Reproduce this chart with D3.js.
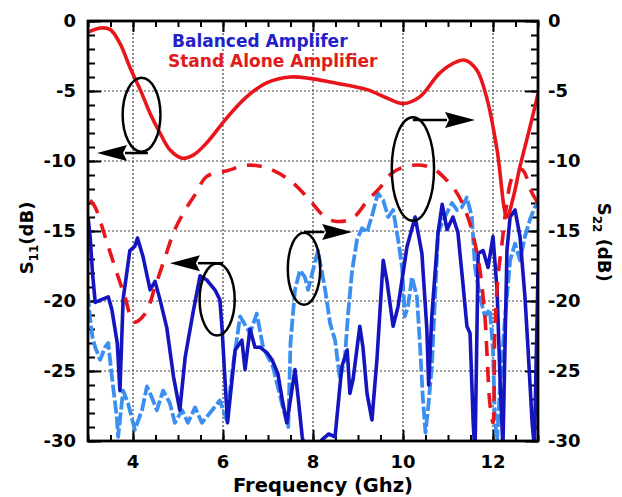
<!DOCTYPE html>
<html>
<head>
<meta charset="utf-8">
<style>
  body { margin: 0; background: #ffffff; }
  text { font-family: "DejaVu Sans", sans-serif; font-weight: bold; }
</style>
</head>
<body>
<div id="graph_div"></div>
<script src="https://d3js.org/d3.v7.min.js"></script>
<script>
// [frequency GHz, level dB]
var standAloneS11 = [[3.0,-0.8],[3.27,-0.5],[3.49,-0.6],[3.71,-1.6],[3.93,-3.3],[4.16,-4.9],[4.38,-6.6],[4.6,-8.0],
  [4.82,-9.2],[5.09,-9.8],[5.33,-9.6],[5.64,-8.7],[6.09,-6.9],[6.53,-5.4],[6.98,-4.4],[7.49,-4.0],[7.93,-4.1],
  [8.44,-4.4],[9.2,-4.9],[9.64,-5.5],[10.0,-5.9],[10.38,-5.4],[10.82,-3.7],[11.2,-2.9],[11.38,-2.8],[11.64,-3.5],
  [11.87,-5.6],[12.09,-9.2],[12.31,-14.0],[12.45,-12.6],[12.6,-10.4],[12.82,-7.6],[13.0,-5.2]];

var standAloneS22 = [[3.05,-12.8],[3.16,-13.3],[3.38,-15.4],[3.6,-17.6],[3.82,-19.7],[4.02,-21.5],[4.27,-20.9],[4.49,-19.0],
  [4.71,-16.9],[4.93,-14.9],[5.16,-13.5],[5.38,-12.4],[5.64,-11.1],[6.09,-10.7],[6.53,-10.3],[6.98,-10.5],[7.49,-11.4],
  [7.93,-12.8],[8.2,-13.8],[8.49,-14.3],[8.87,-14.1],[9.22,-12.8],[9.49,-11.9],[9.78,-10.8],[10.22,-10.3],[10.64,-10.5],
  [10.98,-11.4],[11.22,-12.4],[11.44,-14.0],[11.6,-15.9],[11.71,-17.8],[11.82,-21.1],[11.87,-24.0],[11.93,-27.3],
  [12.0,-28.7],[12.04,-22.3],[12.11,-18.3],[12.2,-15.9],[12.3,-13.2],[12.44,-11.1],[12.64,-10.6],[12.87,-12.3],[13.0,-13.0]];

var balancedS11 = [[3.0,-14.0],[3.05,-15.5],[3.1,-18.0],[3.16,-20.1],[3.3,-19.9],[3.45,-19.7],[3.53,-20.6],[3.65,-23.0],
  [3.71,-26.4],[3.78,-19.9],[3.93,-16.4],[4.04,-16.1],[4.1,-15.5],[4.22,-16.8],[4.38,-19.2],[4.49,-18.6],[4.6,-19.9],
  [4.75,-21.9],[4.9,-25.4],[5.04,-27.8],[5.16,-24.0],[5.33,-20.9],[5.49,-18.2],[5.64,-18.5],[5.82,-19.2],[5.93,-19.9],
  [5.98,-22.0],[6.04,-25.4],[6.1,-28.7],[6.27,-23.5],[6.42,-22.8],[6.49,-24.9],[6.6,-22.0],[6.71,-23.3],[6.82,-23.3],
  [6.98,-23.7],[7.09,-24.2],[7.22,-25.2],[7.33,-27.3],[7.42,-28.7],[7.53,-26.4],[7.6,-24.9],[7.67,-26.9],[7.76,-29.7],
  [7.85,-31],[8.1,-31],[8.2,-29.9],[8.35,-29.5],[8.49,-29.7],[8.64,-24.7],[8.76,-23.5],[8.82,-26.6],[8.89,-25.6],
  [9.04,-21.8],[9.11,-23.3],[9.2,-26.6],[9.31,-28.5],[9.42,-24.2],[9.56,-17.1],[9.64,-18.5],[9.78,-21.8],[9.89,-20.4],
  [10.09,-16.1],[10.27,-14.0],[10.42,-16.6],[10.53,-22.0],[10.57,-26.0],[10.64,-21.1],[10.78,-15.1],[10.87,-13.1],
  [10.98,-14.9],[11.11,-14.0],[11.22,-15.1],[11.33,-18.7],[11.42,-21.8],[11.49,-22.3],[11.56,-28.7],[11.6,-31],
  [11.67,-16.6],[11.78,-16.4],[11.89,-17.6],[12.0,-15.4],[12.09,-19.2],[12.16,-25.9],[12.22,-30.5],[12.31,-16.4],
  [12.38,-14.0],[12.49,-13.5],[12.6,-15.4],[12.71,-19.7],[12.78,-23.5],[12.87,-28.7],[12.92,-30.5],[13.0,-18.0]];

var balancedS22 = [[3.0,-19.5],[3.04,-21.1],[3.1,-22.6],[3.16,-23.3],[3.27,-24.2],[3.38,-23.3],[3.45,-23.0],[3.53,-25.4],
  [3.64,-28.3],[3.67,-29.7],[3.78,-26.4],[3.89,-27.3],[4.04,-29.2],[4.2,-27.8],[4.31,-26.1],[4.42,-26.9],[4.53,-27.8],
  [4.67,-26.4],[4.82,-27.3],[4.93,-28.7],[5.09,-27.8],[5.22,-28.7],[5.38,-27.6],[5.53,-28.7],[5.71,-28.0],[5.93,-27.1],
  [6.08,-28.5],[6.22,-24.7],[6.38,-21.1],[6.6,-22.3],[6.75,-20.9],[6.89,-23.3],[7.11,-24.7],[7.33,-27.6],[7.45,-29.0],
  [7.5,-23.0],[7.55,-21.1],[7.6,-19.2],[7.71,-17.8],[7.82,-18.3],[7.89,-19.2],[8.0,-17.8],[8.11,-16.4],[8.27,-19.2],
  [8.38,-21.6],[8.49,-22.8],[8.6,-25.6],[8.71,-24.0],[8.78,-20.9],[8.87,-17.8],[8.98,-15.6],[9.09,-14.8],[9.2,-15.1],
  [9.33,-13.7],[9.44,-12.3],[9.56,-12.8],[9.67,-14.0],[9.78,-13.5],[9.89,-15.6],[9.98,-17.6],[10.04,-21.1],[10.11,-20.4],
  [10.2,-18.3],[10.31,-19.7],[10.38,-23.3],[10.44,-26.9],[10.5,-29.4],[10.56,-27.6],[10.64,-24.7],[10.78,-15.1],
  [10.93,-14.0],[11.09,-13.0],[11.2,-13.5],[11.31,-13.3],[11.42,-12.6],[11.53,-14.0],[11.6,-17.6],[11.71,-19.7],
  [11.82,-21.1],[11.93,-20.6],[12.0,-23.5],[12.04,-28.3],[12.09,-30.0],[12.16,-25.9],[12.27,-21.1],[12.38,-17.1],
  [12.49,-15.9],[12.6,-17.1],[12.71,-15.4],[12.82,-14.2],[12.93,-13.3],[13.0,-13.0]];

var xTicks = [4, 6, 8, 10, 12];
var yTicks = [0, -5, -10, -15, -20, -25, -30];
var legendLabels = ["Balanced Amplifer", "Stand Alone Amplifier"];

// ellipse call-outs (GHz / dB): centre, half sizes, arrow level, arrow start and tip
var callouts = [
  {f: 4.19, db: -6.7, rf: 0.42, rdb: 2.64, arrowDb: -9.43, from: 4.33, to: 3.2},
  {f: 5.87, db: -19.9, rf: 0.39, rdb: 2.57, arrowDb: -17.3, from: 6.0, to: 4.82},
  {f: 7.8, db: -17.7, rf: 0.36, rdb: 2.57, arrowDb: -15.07, from: 7.8, to: 8.87},
  {f: 10.22, db: -10.57, rf: 0.47, rdb: 3.7, arrowDb: -7.07, from: 10.22, to: 11.6}
];

var margin = {top: 21, right: 84, bottom: 56, left: 88},
    width = 622 - margin.left - margin.right,
    height = 497 - margin.top - margin.bottom;

var svg = d3.select("#graph_div")
  .append("svg")
    .attr("width", 622)
    .attr("height", 497)
  .append("g")
    .attr("transform", "translate(" + margin.left + "," + margin.top + ")");

var x = d3.scaleLinear().domain([3, 13]).range([0, width]);
var y = d3.scaleLinear().domain([-30, 0]).range([height, 0]);

svg.append("defs").append("clipPath").attr("id", "clip")
  .append("rect").attr("width", width).attr("height", height);

// dotted grid
svg.append("g").selectAll("line")
  .data(xTicks).enter().append("line")
    .attr("x1", function(d){ return x(d) }).attr("x2", function(d){ return x(d) })
    .attr("y1", 0).attr("y2", height)
    .attr("stroke", "#444").attr("stroke-width", 1.2).attr("stroke-dasharray", "2,2");
svg.append("g").selectAll("line")
  .data(yTicks.filter(function(d){ return d < 0 && d > -30 })).enter().append("line")
    .attr("y1", function(d){ return y(d) }).attr("y2", function(d){ return y(d) })
    .attr("x1", 0).attr("x2", width)
    .attr("stroke", "#444").attr("stroke-width", 1.2).attr("stroke-dasharray", "2,2");

// inside ticks on all four sides
var xMinor = d3.range(3, 13.01, 0.5), yMinor = d3.range(-30, 0.01, 1);
function tickGroup(axis, tx, ty) {
  var g = svg.append("g").attr("transform", "translate(" + tx + "," + ty + ")").call(axis);
  g.select(".domain").remove();
  g.selectAll("line").attr("stroke", "#000").attr("stroke-width", 2);
  g.selectAll("text").remove();
}
tickGroup(d3.axisBottom(x).tickValues(xMinor).tickSize(-6), 0, height);
tickGroup(d3.axisBottom(x).tickValues(xTicks).tickSize(-11), 0, height);
tickGroup(d3.axisTop(x).tickValues(xMinor).tickSize(-6), 0, 0);
tickGroup(d3.axisTop(x).tickValues(xTicks).tickSize(-11), 0, 0);
tickGroup(d3.axisLeft(y).tickValues(yMinor).tickSize(-7), 0, 0);
tickGroup(d3.axisLeft(y).tickValues(yTicks).tickSize(-13), 0, 0);
tickGroup(d3.axisRight(y).tickValues(yMinor).tickSize(-7), width, 0);
tickGroup(d3.axisRight(y).tickValues(yTicks).tickSize(-13), width, 0);

// curves
var jagged = d3.line().x(function(d){ return x(d[0]) }).y(function(d){ return y(d[1]) });
var smooth = d3.line().x(function(d){ return x(d[0]) }).y(function(d){ return y(d[1]) }).curve(d3.curveCatmullRom);

var plot = svg.append("g").attr("clip-path", "url(#clip)");
var series = [
  {data: balancedS22, line: jagged, color: "#3b8ff0", w: 3.8, dash: "13,3"},
  {data: balancedS11, line: jagged, color: "#1515c0", w: 3.6, dash: null},
  {data: standAloneS22, line: smooth, color: "#e8151b", w: 3.6, dash: "15,11"},
  {data: standAloneS11, line: smooth, color: "#e8151b", w: 3.6, dash: null}
];
plot.selectAll("path.s")
  .data(series).enter().append("path")
    .attr("class", "s")
    .attr("d", function(d){ return d.line(d.data) })
    .attr("fill", "none")
    .attr("stroke", function(d){ return d.color })
    .attr("stroke-width", function(d){ return d.w })
    .attr("stroke-dasharray", function(d){ return d.dash })
    .attr("stroke-linejoin", "round");

// call-outs
var co = svg.append("g").selectAll("g").data(callouts).enter().append("g");
co.append("ellipse")
  .attr("cx", function(d){ return x(d.f) }).attr("cy", function(d){ return y(d.db) })
  .attr("rx", function(d){ return x(d.f + d.rf) - x(d.f) })
  .attr("ry", function(d){ return y(d.db - d.rdb) - y(d.db) })
  .attr("fill", "none").attr("stroke", "#000").attr("stroke-width", 2.5);
co.append("line")
  .attr("x1", function(d){ return x(d.from) })
  .attr("x2", function(d){ return x(d.to) + (d.to < d.from ? 28 : -28) })
  .attr("y1", function(d){ return y(d.arrowDb) }).attr("y2", function(d){ return y(d.arrowDb) })
  .attr("stroke", "#000").attr("stroke-width", 2.5);
co.append("path")
  .attr("d", function(d){
    var tx = x(d.to), ty = y(d.arrowDb), bx = tx + (d.to < d.from ? 30 : -30);
    return "M" + tx + "," + ty + "L" + bx + "," + (ty - 8) + "L" + (bx + (d.to < d.from ? -4 : 4)) + "," + ty +
           "L" + bx + "," + (ty + 8) + "Z";
  })
  .attr("fill", "#000");

// frame
svg.append("rect").attr("width", width).attr("height", height)
  .attr("fill", "none").attr("stroke", "#000").attr("stroke-width", 2.8);

// tick labels
svg.append("g").selectAll("text").data(xTicks).enter().append("text")
  .attr("x", function(d){ return x(d) }).attr("y", height + 27)
  .attr("text-anchor", "middle").attr("font-size", "18px").text(function(d){ return d });
svg.append("g").selectAll("text").data(yTicks).enter().append("text")
  .attr("x", -12).attr("y", function(d){ return y(d) }).attr("dy", "0.36em")
  .attr("text-anchor", "end").attr("font-size", "18px").text(function(d){ return d });
svg.append("g").selectAll("text").data(yTicks).enter().append("text")
  .attr("x", width + 10).attr("y", function(d){ return y(d) }).attr("dy", "0.36em")
  .attr("text-anchor", "start").attr("font-size", "18px").text(function(d){ return d });

// axis titles
svg.append("text")
  .attr("x", width / 2 + 10).attr("y", height + 51)
  .attr("text-anchor", "middle").attr("font-size", "19.5px")
  .text("Frequency (Ghz)");

var yl = svg.append("text")
  .attr("transform", "translate(" + (-55) + "," + (y(-15.5)) + ") rotate(-90)")
  .attr("text-anchor", "middle").attr("font-size", "18px");
yl.append("tspan").text("S");
yl.append("tspan").attr("font-size", "12px").attr("dy", "5").text("11");
yl.append("tspan").attr("dy", "-5").text("(dB)");

var yr = svg.append("text")
  .attr("transform", "translate(" + (width + 60) + "," + (y(-15.8)) + ") rotate(90)")
  .attr("text-anchor", "middle").attr("font-size", "18px");
yr.append("tspan").text("S");
yr.append("tspan").attr("font-size", "12px").attr("dy", "5").text("22");
yr.append("tspan").attr("dy", "-5").text(" (dB)");

// legend
var legendColors = ["#1f22c8", "#e01b1b"];
svg.append("g").selectAll("text").data(legendLabels).enter().append("text")
  .attr("x", function(d, i){ return 84 - i * 4 })
  .attr("y", function(d, i){ return 26 + i * 20 })
  .attr("font-size", "17px")
  .attr("fill", function(d, i){ return legendColors[i] })
  .text(function(d){ return d });
</script>
</body>
</html>
